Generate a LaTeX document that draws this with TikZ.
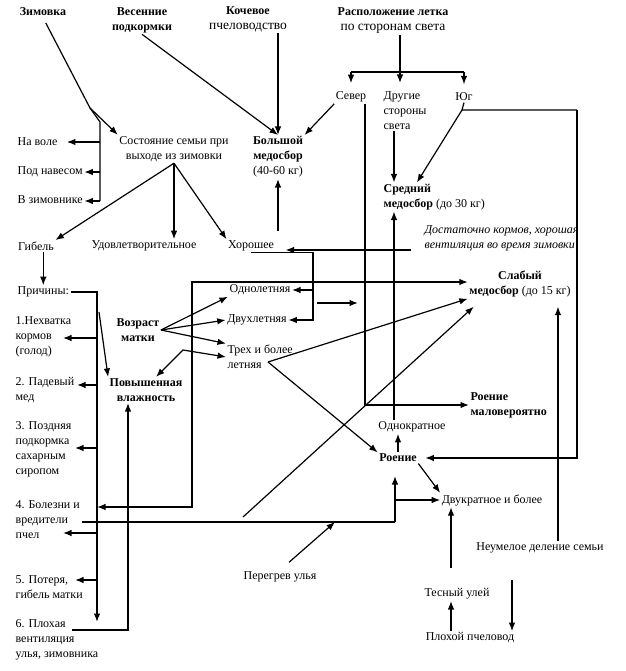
\documentclass[tikz,border=0pt]{standalone}
\usepackage{fontspec}
\setmainfont{Liberation Serif}
\usetikzlibrary{arrows.meta}
\newcommand\bigtxt{\fontsize{13.5}{15}\selectfont}

\begin{document}
\begin{tikzpicture}[x=1pt,y=-1pt,>={Latex[length=8.5pt,width=6.5pt]},line width=1.2pt,
  every node/.style={font=\fontsize{12}{15}\selectfont,inner sep=1pt},
  left list/.style={anchor=west,align=left},
  hdr/.style={font=\fontsize{12}{15}\selectfont\bfseries,align=center}]
\useasboundingbox (0,0) rectangle (625,671);

% headers
\node[hdr] (zim) at (43,12) {Зимовка};
\node[hdr] (vesn) at (142,20) {Весенние\\подкормки};
\node[align=center] (koch) at (248,19) {\textbf{Кочевое}\\{\bigtxt пчеловодство}};
\node[align=center] (rasp) at (393,21) {\textbf{Расположение летка}\\{\bigtxt по сторонам света}};
\node (sever) at (351,97) {Север};
\node[left list,anchor=north west] (drug) at (382,90) {Другие\\стороны\\света};
\node (yug) at (464,97) {Юг};

% winter and state
\node[left list] (navole) at (16,142) {На воле};
\node[left list] (podnav) at (16,172) {Под навесом};
\node[left list] (vzim) at (16,200) {В зимовнике};
\node[align=center] (sost) at (174,149) {Состояние семьи при\\выходе из зимовки};
\node[align=center] (bolsh) at (278,157) {\textbf{Большой}\\\textbf{медосбор}\\(40-60 кг)};
\node[left list] (sred) at (382,197) {\textbf{Средний}\\\textbf{медосбор} (до 30 кг)};
\node[left list,font=\fontsize{12}{15}\selectfont\itshape] (dost) at (423,238) {Достаточно кормов, хорошая\\вентиляция во время зимовки};
\node (gibel) at (36,246) {Гибель};
\node (udov) at (144,246) {Удовлетворительное};
\node (hor) at (251,246) {Хорошее};

% causes and queen age
\node[left list] (prich) at (16,292) {Причины:};
\node[left list] (p1) at (14,337) {1.Нехватка\\кормов\\(голод)};
\node[hdr] (vozr) at (138,330) {Возраст\\матки};
\node (odn) at (260,290) {Однолетняя};
\node (dvuh) at (257,320) {Двухлетняя};
\node[left list] (treh) at (226,357) {Трех и более\\летняя};
\node[align=center] (slab) at (520,284) {\textbf{Слабый}\\\textbf{медосбор} (до 15 кг)};
\node[left list] (p2) at (14,390) {2. Падевый\\мед};
\node[hdr] (povysh) at (146,390) {Повышенная\\влажность};
\node[hdr,left list] (rmalo) at (469,405) {Роение\\маловероятно};
\node (odnokr) at (412,427) {Однократное};
\node[hdr] (roen) at (398,458) {Роение};
\node[left list] (p3) at (14,449) {3. Поздняя\\подкормка\\сахарным\\сиропом};
\node (dvukr) at (492,500) {Двукратное и более};
\node[left list] (p4) at (14,520) {4. Болезни и\\вредители\\пчел};
\node (neum) at (540,548) {Неумелое деление семьи};
\node (pereg) at (280,577) {Перегрев улья};
\node[left list] (p5) at (14,587) {5. Потеря,\\гибель матки};
\node (tesn) at (457,594) {Тесный улей};
\node[left list] (p6) at (14,640) {6. Плохая\\вентиляция\\улья, зимовника};
\node (ploh) at (470,638) {Плохой пчеловод};

% winter
\coordinate (zs) at (90,108);
\coordinate (zt) at (100,122);
\coordinate (zb) at (100,201);
\draw[shorten <=6pt] (zim.south) -- (zs) -- (zt) -- (zb);
\draw[->] (zs) -- (sost.north west);
\draw[->,shorten >=8pt] (zt |- navole.east) -- (navole.east);
\draw[->] (zt |- podnav.east) -- (podnav.east);
\draw[->] (zb) -- (zb -| vzim.east);

% top arrows
\draw[->] (vesn.south) -- (bolsh.north);
\draw[->] (bolsh.north |- koch.south) -- (bolsh.north);
\coordinate (rb) at (400,72);
\draw (rb |- rasp.south) -- (rb);
\draw (sever |- rb) -- (yug |- rb);
\draw[->,shorten >=7pt] (sever |- rb) -- (sever.north);
\draw[->,shorten >=7pt] (rb) -- (rb |- drug.north);
\draw[->,shorten >=7pt] (yug |- rb) -- (yug.north);

% sides of the world
\coordinate (sx) at (365,0);
\draw[->] (sever.south west) -- (bolsh.north east);
\draw[->] (sever.south -| sx) |- (rmalo.west);
\coordinate (dx) at (394,0);
\draw[->] (drug.south -| dx) -- (dx |- sred.north);
\draw[->] (odnokr.north -| dx) -- (dx |- sred.south);
\coordinate (ys) at (462,110);
\coordinate (yr) at (577,110);
\draw (yug.south) -- (ys) -- (yr);
\draw[->] (ys) -- (sred.140);
\draw[->,shorten >=7pt] (yr) |- (roen.east);

% state of the colony
\draw[->] (sost.south) -- (gibel.north east);
\draw[->] (sost.south) -- (sost.south |- udov.north);
\draw[->] (sost.south) -- (hor.north west);
\draw[->,shorten <=8pt] (bolsh.south |- hor.north) -- (bolsh.south);
\draw[->] (prich.north |- gibel.south) -- (prich.north);

% causes
\coordinate (px) at (97,0);
\coordinate (pend) at (97,622);
\draw[->] (prich.east) -| (pend);
\coordinate (t1) at (63,338);
\coordinate (t2) at (77,385);
\coordinate (t3) at (75,448);
\coordinate (t4) at (63,533);
\coordinate (t5) at (75,580);
\foreach \t in {t1,t2,t3,t4,t5}
  \draw[->] (px |- \t) -- (\t);
\coordinate (pd) at (99,312);
\draw[->] (pd) -- (povysh.north west);
\coordinate (v6) at (72,630);
\coordinate (vx) at (128,0);
\draw[->] (v6) -| (vx |- povysh.south);

% queen age
\draw[->] (vozr.east) -- (odn.south west);
\draw[->] (vozr.east) -- (dvuh.west);
\draw[->] (vozr.east) -- (treh.north west);
\coordinate (pb) at (183,350);
\draw[<->] ([xshift=10pt]povysh.north) -- (pb) -- (treh.west);

% good state
\coordinate (hx) at (313,0);
\draw[->] (hor.south) -| (hx |- dvuh.east) -- (dvuh.east);
\draw[->] (hx |- odn.east) -- (odn.east);
\coordinate (hl) at (317,303);
\coordinate (hr) at (358,303);
\draw[->] (hl) -- (hr);
\coordinate (d1) at (411,250);
\draw[->,shorten >=10pt] (d1) -- (d1 -| hor.east);

% weak harvest
\coordinate (b1) at (192,282);
\coordinate (b2) at (192,507);
\draw[<->] (px |- b2) -- (b2) -- (b1) -- (b1 -| slab.west);
\coordinate (tv) at (268,362);
\draw[->] (tv) -- (slab.south west);
\draw[->] (tv) -- (roen.north west);
\coordinate (dg) at (243,517);
\draw[->] (dg) -- ([xshift=6pt,yshift=-8pt]slab.south west);

% swarming
\coordinate (u4) at (82,522);
\coordinate (r1) at (395,522);
\coordinate (r2) at (395,476);
\draw (u4) -- (r1);
\draw[->] (r1) -- (r2);
\draw[->] (r1 |- dvukr.west) -- (dvukr.west);
\coordinate (pt) at (335,522);
\draw[->,shorten <=12pt] (pereg.north) -- (pt);
\draw[->] (roen.north) -- (roen.north |- odnokr.south);
\draw[->] (roen.south east) -- (dvukr.north west);

% bottom
\coordinate (tx) at (451,0);
\coordinate (tt) at (451,568);
\draw[->] (tt) -- (tx |- dvukr.south);
\draw[->] (ploh.north -| tx) -- (tx |- tesn.south);
\coordinate (nd) at (512,580);
\draw[->] (nd) -- (nd |- ploh.north);
\coordinate (nx) at (558,0);
\draw[->,shorten >=8pt] (neum.north -| nx) -- (nx |- slab.south);
\end{tikzpicture}
\end{document}
